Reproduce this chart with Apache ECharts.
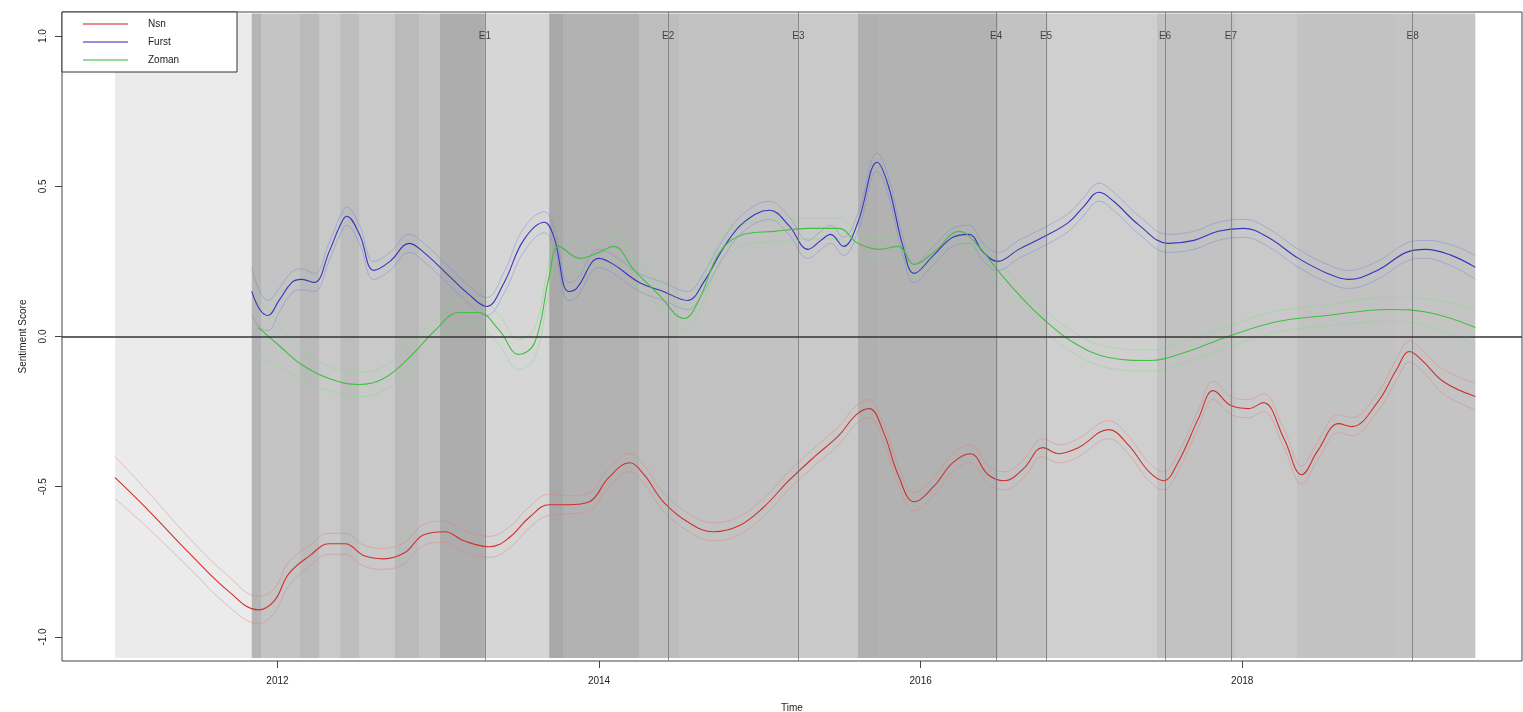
<!DOCTYPE html>
<html>
<head>
<meta charset="utf-8">
<title>Sentiment Score</title>
<script src="https://cdn.jsdelivr.net/npm/echarts@6/dist/echarts.min.js"></script>
<style>
  html, body { margin: 0; padding: 0; background: #fff; }
  #main { width: 1523px; height: 712px; }
</style>
</head>
<body>
<div id="main"></div>
<script>
// time is decimal years; each point is [year, smoothed score, half width of the band]
var nsnPts = [
  [2010.99, -0.47, 0.07], [2011.20, -0.58, 0.06], [2011.45, -0.72, 0.05], [2011.70, -0.85, 0.05],
  [2011.88, -0.91, 0.045], [2011.98, -0.88, 0.04], [2012.07, -0.79, 0.04], [2012.20, -0.73, 0.035],
  [2012.32, -0.69, 0.035], [2012.42, -0.69, 0.035], [2012.54, -0.73, 0.035], [2012.66, -0.74, 0.035],
  [2012.79, -0.72, 0.035], [2012.91, -0.66, 0.035], [2013.04, -0.65, 0.035], [2013.16, -0.68, 0.035],
  [2013.32, -0.70, 0.035], [2013.44, -0.67, 0.035], [2013.57, -0.60, 0.035], [2013.69, -0.56, 0.035],
  [2013.81, -0.56, 0.03], [2013.94, -0.55, 0.03], [2014.06, -0.47, 0.03], [2014.19, -0.42, 0.03],
  [2014.28, -0.46, 0.03], [2014.40, -0.55, 0.03], [2014.56, -0.62, 0.03], [2014.71, -0.65, 0.03],
  [2014.87, -0.63, 0.03], [2015.02, -0.57, 0.03], [2015.18, -0.48, 0.03], [2015.34, -0.40, 0.03],
  [2015.49, -0.33, 0.03], [2015.60, -0.26, 0.03], [2015.68, -0.24, 0.03], [2015.77, -0.32, 0.03],
  [2015.86, -0.46, 0.03], [2015.96, -0.55, 0.03], [2016.08, -0.50, 0.03], [2016.20, -0.42, 0.03],
  [2016.31, -0.39, 0.03], [2016.42, -0.46, 0.03], [2016.52, -0.48, 0.03], [2016.64, -0.44, 0.03],
  [2016.76, -0.37, 0.03], [2016.86, -0.39, 0.03], [2016.98, -0.37, 0.03], [2017.17, -0.31, 0.03],
  [2017.29, -0.36, 0.03], [2017.42, -0.45, 0.03], [2017.51, -0.48, 0.03], [2017.60, -0.42, 0.03],
  [2017.73, -0.27, 0.03], [2017.82, -0.18, 0.03], [2017.93, -0.23, 0.03], [2018.04, -0.24, 0.03],
  [2018.13, -0.22, 0.03], [2018.26, -0.34, 0.03], [2018.37, -0.46, 0.03], [2018.47, -0.38, 0.03],
  [2018.60, -0.29, 0.03], [2018.68, -0.30, 0.03], [2018.84, -0.22, 0.03], [2018.96, -0.11, 0.035],
  [2019.04, -0.05, 0.035], [2019.12, -0.08, 0.035], [2019.25, -0.15, 0.04], [2019.45, -0.20, 0.045]
];
var furstPts = [
  [2011.84, 0.15, 0.08], [2011.89, 0.09, 0.06], [2011.94, 0.07, 0.05], [2012.01, 0.12, 0.04],
  [2012.09, 0.18, 0.035], [2012.15, 0.19, 0.035], [2012.23, 0.18, 0.03], [2012.32, 0.28, 0.03],
  [2012.39, 0.37, 0.03], [2012.43, 0.40, 0.03], [2012.51, 0.34, 0.03], [2012.60, 0.22, 0.03],
  [2012.70, 0.25, 0.03], [2012.82, 0.31, 0.03], [2012.91, 0.28, 0.03], [2013.07, 0.20, 0.03],
  [2013.19, 0.14, 0.03], [2013.30, 0.10, 0.03], [2013.41, 0.18, 0.035], [2013.53, 0.32, 0.04],
  [2013.66, 0.38, 0.035], [2013.72, 0.33, 0.03], [2013.81, 0.15, 0.03], [2013.86, 0.16, 0.03],
  [2014.00, 0.26, 0.03], [2014.09, 0.24, 0.03], [2014.25, 0.18, 0.03], [2014.40, 0.15, 0.03],
  [2014.55, 0.12, 0.03], [2014.65, 0.18, 0.03], [2014.78, 0.30, 0.03], [2014.90, 0.38, 0.03],
  [2015.06, 0.42, 0.03], [2015.18, 0.37, 0.03], [2015.30, 0.29, 0.03], [2015.38, 0.32, 0.03],
  [2015.44, 0.34, 0.03], [2015.52, 0.30, 0.03], [2015.61, 0.38, 0.03], [2015.73, 0.58, 0.03],
  [2015.80, 0.50, 0.03], [2015.89, 0.30, 0.03], [2015.96, 0.21, 0.03], [2016.08, 0.27, 0.03],
  [2016.20, 0.33, 0.03], [2016.30, 0.34, 0.03], [2016.39, 0.28, 0.03], [2016.48, 0.25, 0.03],
  [2016.61, 0.29, 0.03], [2016.76, 0.33, 0.03], [2016.92, 0.38, 0.03], [2017.01, 0.43, 0.03],
  [2017.11, 0.48, 0.03], [2017.20, 0.45, 0.03], [2017.36, 0.37, 0.03], [2017.54, 0.31, 0.03],
  [2017.70, 0.32, 0.03], [2017.85, 0.35, 0.03], [2018.01, 0.36, 0.03], [2018.16, 0.33, 0.03],
  [2018.35, 0.26, 0.03], [2018.53, 0.21, 0.03], [2018.66, 0.19, 0.03], [2018.84, 0.22, 0.03],
  [2019.02, 0.28, 0.03], [2019.14, 0.29, 0.03], [2019.30, 0.27, 0.035], [2019.45, 0.23, 0.04]
];
var zomanPts = [
  [2011.88, 0.03, 0.10], [2012.01, -0.03, 0.07], [2012.14, -0.09, 0.05], [2012.32, -0.14, 0.04],
  [2012.51, -0.16, 0.04], [2012.66, -0.14, 0.04], [2012.82, -0.07, 0.04], [2012.98, 0.02, 0.04],
  [2013.13, 0.08, 0.04], [2013.25, 0.08, 0.045], [2013.38, 0.02, 0.05], [2013.50, -0.06, 0.05],
  [2013.60, -0.02, 0.05], [2013.69, 0.20, 0.05], [2013.75, 0.30, 0.045], [2013.88, 0.26, 0.04],
  [2014.00, 0.28, 0.04], [2014.09, 0.30, 0.04], [2014.22, 0.22, 0.04], [2014.37, 0.14, 0.04],
  [2014.53, 0.06, 0.04], [2014.62, 0.12, 0.04], [2014.75, 0.28, 0.04], [2014.90, 0.34, 0.035],
  [2015.09, 0.35, 0.035], [2015.30, 0.36, 0.035], [2015.49, 0.36, 0.035], [2015.61, 0.31, 0.035],
  [2015.74, 0.29, 0.035], [2015.86, 0.30, 0.035], [2015.96, 0.24, 0.035], [2016.08, 0.28, 0.035],
  [2016.24, 0.35, 0.035], [2016.36, 0.30, 0.035], [2016.48, 0.22, 0.035], [2016.61, 0.14, 0.035],
  [2016.76, 0.06, 0.035], [2016.95, -0.02, 0.035], [2017.17, -0.07, 0.035], [2017.42, -0.08, 0.035],
  [2017.66, -0.05, 0.035], [2017.91, 0.00, 0.035], [2018.22, 0.05, 0.035], [2018.53, 0.07, 0.035],
  [2018.91, 0.09, 0.04], [2019.16, 0.08, 0.045], [2019.45, 0.03, 0.06]
];
// vertical events
var eventNames = ['E1', 'E2', 'E3', 'E4', 'E5', 'E6', 'E7', 'E8'];
var eventYears = [2013.29, 2014.43, 2015.24, 2016.47, 2016.78, 2017.52, 2017.93, 2019.06];
// darkness of the cloud of individual scores: [from year, to year, darkness]
var cloud = [
  [2010.99, 2011.84, 0.08], [2011.84, 2011.90, 0.29], [2011.90, 2012.14, 0.23], [2012.14, 2012.26, 0.27],
  [2012.26, 2012.39, 0.21], [2012.39, 2012.51, 0.26], [2012.51, 2012.73, 0.21], [2012.73, 2012.88, 0.27],
  [2012.88, 2013.01, 0.23], [2013.01, 2013.29, 0.32], [2013.29, 2013.69, 0.16], [2013.69, 2013.78, 0.34],
  [2013.78, 2014.25, 0.30], [2014.25, 2014.50, 0.26], [2014.50, 2015.24, 0.24], [2015.24, 2015.61, 0.21],
  [2015.61, 2015.74, 0.31], [2015.74, 2016.48, 0.30], [2016.48, 2016.79, 0.24], [2016.79, 2017.47, 0.19],
  [2017.47, 2017.96, 0.24], [2017.96, 2018.34, 0.21], [2018.34, 2018.96, 0.24], [2018.96, 2019.45, 0.23]
];
var xTicks = [2012, 2014, 2016, 2018];
var yTicks = [-1.0, -0.5, 0.0, 0.5, 1.0];

var font = 'Liberation Sans, Arial, sans-serif';
var chart = echarts.init(document.getElementById('main'));

function mid(pts) { return pts.map(function (p) { return [p[0], p[1]]; }); }
function upper(pts) { return pts.map(function (p) { return [p[0], p[1] + p[2]]; }); }
function lower(pts) { return pts.map(function (p) { return [p[0], p[1] - p[2]]; }); }

function bandSeries(name, pts, color) {
  return [upper(pts), lower(pts)].map(function (d, i) {
    return {
      name: name + (i ? ' lo' : ' hi'), type: 'line', data: d, showSymbol: false, smooth: 0.4,
      lineStyle: { color: color, width: 0.7, opacity: 0.65 }, z: 3, silent: true
    };
  });
}

var series = [
  {
    name: 'cloud', type: 'custom', data: cloud, encode: { x: [0, 1] }, z: 1, silent: true,
    renderItem: function (params, api) {
      var a = api.coord([api.value(0), 1.075]);
      var b = api.coord([api.value(1), -1.07]);
      return {
        type: 'rect',
        shape: { x: a[0], y: a[1], width: b[0] - a[0], height: b[1] - a[1] },
        style: { fill: 'rgba(0,0,0,' + api.value(2) + ')' }
      };
    }
  },
  {
    name: 'events', type: 'scatter', z: 2, silent: true,
    data: eventYears.map(function (y, i) { return { value: [y, 1.0], name: eventNames[i] }; }),
    symbolSize: 1, itemStyle: { color: 'transparent' },
    label: { show: true, position: 'inside', formatter: '{b}', color: '#222', fontSize: 10, fontFamily: font },
    markLine: {
      silent: true, symbol: 'none', label: { show: false },
      lineStyle: { color: '#777', width: 0.8, type: 'solid' },
      data: eventYears.map(function (y) { return { xAxis: y }; })
    }
  },
  {
    name: 'zero', type: 'line', data: [], z: 2, silent: true,
    markLine: {
      silent: true, symbol: 'none', label: { show: false },
      lineStyle: { color: '#333', width: 1.5, type: 'solid' },
      data: [{ yAxis: 0 }]
    }
  }
];
series = series.concat(bandSeries('Nsn', nsnPts, '#e08080'),
  bandSeries('Furst', furstPts, '#8080dc'), bandSeries('Zoman', zomanPts, '#80dc80'));
series.push(
  { name: 'Nsn', type: 'line', data: mid(nsnPts), showSymbol: false, smooth: 0.4, z: 4,
    color: '#d03030', lineStyle: { width: 1.1 } },
  { name: 'Furst', type: 'line', data: mid(furstPts), showSymbol: false, smooth: 0.4, z: 4,
    color: '#3535c0', lineStyle: { width: 1.1 } },
  { name: 'Zoman', type: 'line', data: mid(zomanPts), showSymbol: false, smooth: 0.4, z: 4,
    color: '#40c040', lineStyle: { width: 1.1 } }
);

var option = {
  animation: false,
  backgroundColor: '#fff',
  grid: { left: 62, right: 1, top: 12, bottom: 51, outerBoundsMode: 'none', containLabel: false,
    show: true, borderColor: '#444', borderWidth: 1, backgroundColor: 'transparent' },
  legend: {
    data: ['Nsn', 'Furst', 'Zoman'], orient: 'vertical', left: 62, top: 12, selectedMode: false,
    icon: 'rect', itemWidth: 45, itemHeight: 2, itemGap: 4,
    padding: [5, 29, 5, 21], borderColor: '#333', borderWidth: 1, backgroundColor: '#fff',
    itemStyle: { opacity: 0.55 },
    textStyle: { fontSize: 10, color: '#222', fontFamily: font, width: 60, padding: [0, 0, 0, 15], lineHeight: 14 }
  },
  xAxis: {
    type: 'value', min: 2010.66, max: 2019.74,
    name: 'Time', nameLocation: 'middle', nameGap: 42,
    nameTextStyle: { fontSize: 10, color: '#222', fontFamily: font },
    axisLine: { show: false, onZero: false },
    axisTick: { show: true, customValues: xTicks, length: 7, lineStyle: { color: '#444' } },
    axisLabel: { customValues: xTicks, margin: 15, fontSize: 10, color: '#222', fontFamily: font,
      formatter: function (v) { return String(v); } },
    splitLine: { show: false }
  },
  yAxis: {
    type: 'value', min: -1.08, max: 1.08,
    name: 'Sentiment Score', nameLocation: 'middle', nameGap: 34, nameRotate: 90,
    nameTextStyle: { fontSize: 10, color: '#222', fontFamily: font },
    axisLine: { show: false, onZero: false },
    axisTick: { show: true, customValues: yTicks, length: 7, lineStyle: { color: '#444' } },
    axisLabel: { customValues: yTicks, rotate: 90, margin: 14, fontSize: 10, color: '#222', fontFamily: font,
      formatter: function (v) { return v.toFixed(1); } },
    splitLine: { show: false }
  },
  series: series
};
chart.setOption(option);
</script>
</body>
</html>
